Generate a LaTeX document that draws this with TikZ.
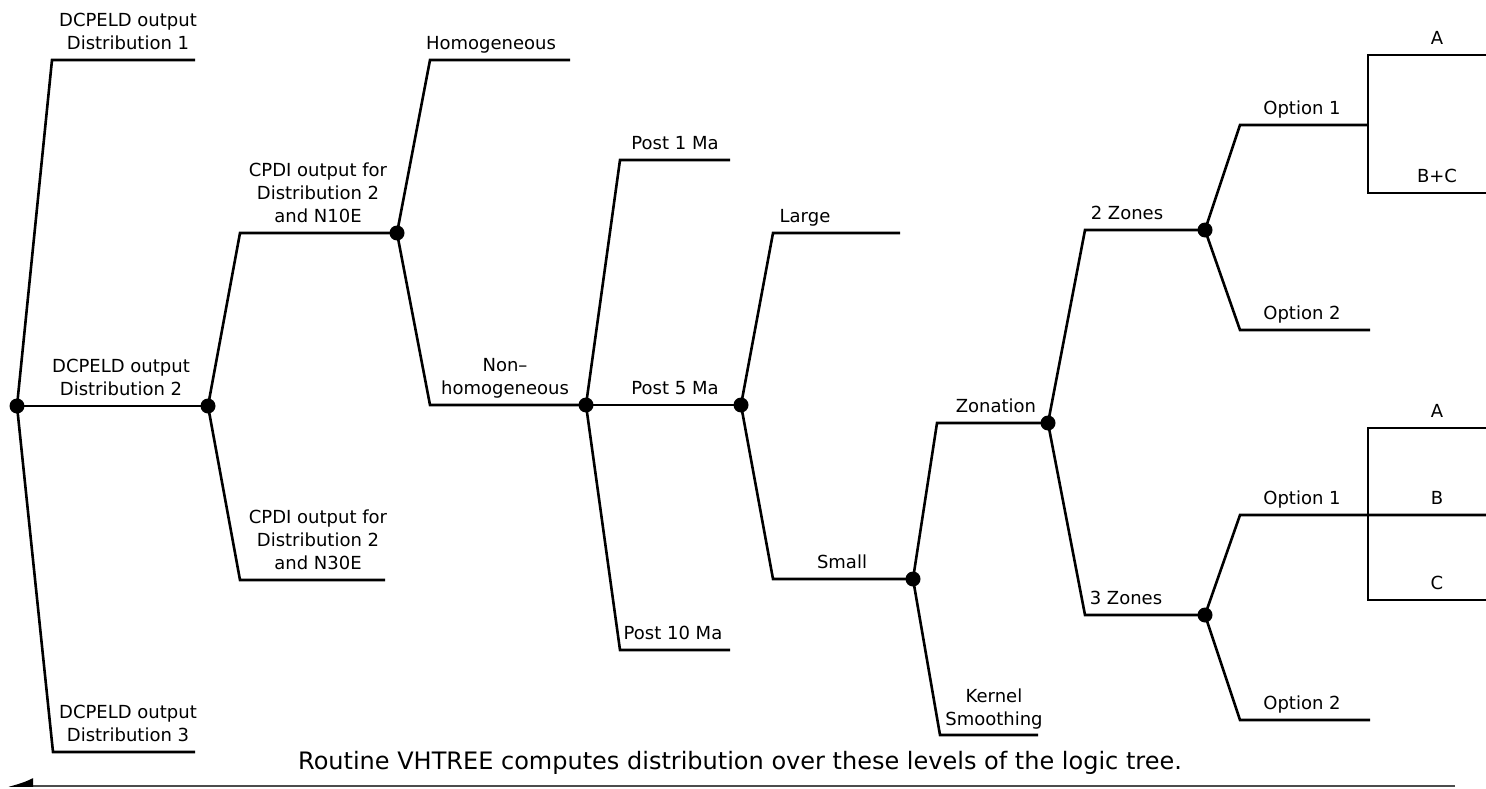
\documentclass[tikz,border=0pt]{standalone}
\usepackage{fontspec}
\setmainfont{DejaVu Sans}
\usetikzlibrary{arrows.meta}

\tikzset{
	branch/.style={line width=2.6pt, line join=miter},
	knot/.style={circle, fill, inner sep=0pt, minimum size=15pt},
	lbl/.style={anchor=south, align=center, inner sep=0pt, font=\fontsize{18}{23}\selectfont},
	note/.style={anchor=base, inner sep=0pt, font=\fontsize{24}{28}\selectfont},
}

\begin{document}
\begin{tikzpicture}[x=1pt, y=-1pt]
	\useasboundingbox (0,0) rectangle (1486,789);
	% Knots of the tree:
	\node[knot](R0) at (17,406){};
	\node[knot](D1) at (208,406){};
	\node[knot](D2) at (397,233){};
	\node[knot](D3) at (586,405){};
	\node[knot](D4) at (741,405){};
	\node[knot](D5) at (913,579){};
	\node[knot](D6) at (1048,423){};
	\node[knot](D7) at (1205,230){};
	\node[knot](D8) at (1205,615){};
	% Bends and free ends:
	\coordinate (B1a) at (52,60);    \coordinate (E1a) at (195,60);
	\coordinate (B1c) at (53,752);   \coordinate (E1c) at (195,752);
	\coordinate (B2a) at (240,233);
	\coordinate (B2b) at (240,580);  \coordinate (E2b) at (385,580);
	\coordinate (B3a) at (430,60);   \coordinate (E3a) at (570,60);
	\coordinate (B3b) at (430,405);
	\coordinate (B4a) at (620,160);  \coordinate (E4a) at (730,160);
	\coordinate (B4c) at (620,650);  \coordinate (E4c) at (730,650);
	\coordinate (B5a) at (773,233);  \coordinate (E5a) at (900,233);
	\coordinate (B5b) at (773,579);
	\coordinate (B6a) at (937,423);
	\coordinate (B6b) at (940,735);  \coordinate (E6b) at (1038,735);
	\coordinate (B7a) at (1085,230);
	\coordinate (B7b) at (1085,615);
	\coordinate (B8a) at (1240,125); \coordinate (J1) at (1368,125);
	\coordinate (B8b) at (1240,330); \coordinate (E8b) at (1370,330);
	\coordinate (B8c) at (1240,515); \coordinate (J2) at (1368,515);
	\coordinate (B8d) at (1240,720); \coordinate (E8d) at (1370,720);
	\coordinate (T1) at (1368,55);   \coordinate (E9a) at (1486,55);
	\coordinate (U1) at (1368,193);  \coordinate (E9b) at (1486,193);
	\coordinate (T2) at (1368,428);  \coordinate (E9c) at (1486,428);
	\coordinate (E9d) at (1486,515);
	\coordinate (U2) at (1368,600);  \coordinate (E9e) at (1486,600);
	\coordinate (AR) at (1455,786);  \coordinate (AL) at (8,786);
	% Branches:
	\draw[branch] (R0.center) -- (B1a) -- (E1a);
	\draw[branch] (R0.center) -- (D1.center);
	\draw[branch] (R0.center) -- (B1c) -- (E1c);
	\draw[branch] (D1.center) -- (B2a) -- (D2.center);
	\draw[branch] (D1.center) -- (B2b) -- (E2b);
	\draw[branch] (D2.center) -- (B3a) -- (E3a);
	\draw[branch] (D2.center) -- (B3b) -- (D3.center);
	\draw[branch] (D3.center) -- (B4a) -- (E4a);
	\draw[branch] (D3.center) -- (D4.center);
	\draw[branch] (D3.center) -- (B4c) -- (E4c);
	\draw[branch] (D4.center) -- (B5a) -- (E5a);
	\draw[branch] (D4.center) -- (B5b) -- (D5.center);
	\draw[branch] (D5.center) -- (B6a) -- (D6.center);
	\draw[branch] (D5.center) -- (B6b) -- (E6b);
	\draw[branch] (D6.center) -- (B7a) -- (D7.center);
	\draw[branch] (D6.center) -- (B7b) -- (D8.center);
	\draw[branch] (D7.center) -- (B8a) -- (J1);
	\draw[branch] (D7.center) -- (B8b) -- (E8b);
	\draw[branch] (D8.center) -- (B8c) -- (J2) -- (E9d);
	\draw[branch] (D8.center) -- (B8d) -- (E8d);
	\draw[branch] (E9a) -- (T1) -- (U1) -- (E9b);
	\draw[branch] (E9c) -- (T2) -- (U2) -- (E9e);
	% Labels:
	\node[lbl](L1) at (128,57){DCPELD output\\Distribution 1\strut};
	\node[lbl](L2) at (121,403){DCPELD output\\Distribution 2\strut};
	\node[lbl](L3) at (128,749){DCPELD output\\Distribution 3\strut};
	\node[lbl](L4) at (318,230){CPDI output for\\Distribution 2\\and N10E\strut};
	\node[lbl](L5) at (318,577){CPDI output for\\Distribution 2\\and N30E\strut};
	\node[lbl](L6) at (491,57){Homogeneous\strut};
	\node[lbl](L7) at (505,402){Non--\\homogeneous\strut};
	\node[lbl](L8) at (675,157){Post 1 Ma\strut};
	\node[lbl](L9) at (675,402){Post 5 Ma\strut};
	\node[lbl](L10) at (673,647){Post 10 Ma\strut};
	\node[lbl](L11) at (805,230){Large\strut};
	\node[lbl](L12) at (842,576){Small\strut};
	\node[lbl](L13) at (996,420){Zonation\strut};
	\node[lbl](L14) at (994,733){Kernel\\Smoothing\strut};
	\node[lbl](L15) at (1127,227){2 Zones\strut};
	\node[lbl](L16) at (1126,612){3 Zones\strut};
	\node[lbl](L17) at (1302,122){Option 1\strut};
	\node[lbl](L18) at (1302,327){Option 2\strut};
	\node[lbl](L19) at (1302,512){Option 1\strut};
	\node[lbl](L20) at (1302,717){Option 2\strut};
	\node[lbl](L21) at (1437,52){A\strut};
	\node[lbl](L22) at (1437,190){B+C\strut};
	\node[lbl](L23) at (1437,425){A\strut};
	\node[lbl](L24) at (1437,512){B\strut};
	\node[lbl](L25) at (1437,597){C\strut};
	% Level arrow:
	\node[note](N1) at (740,769){Routine VHTREE computes distribution over these levels of the logic tree.};
	\draw[black!70, line width=1.5pt, -{Latex[length=22pt, width=16pt, right, black]}] (AR) -- (AL);
\end{tikzpicture}
\end{document}
